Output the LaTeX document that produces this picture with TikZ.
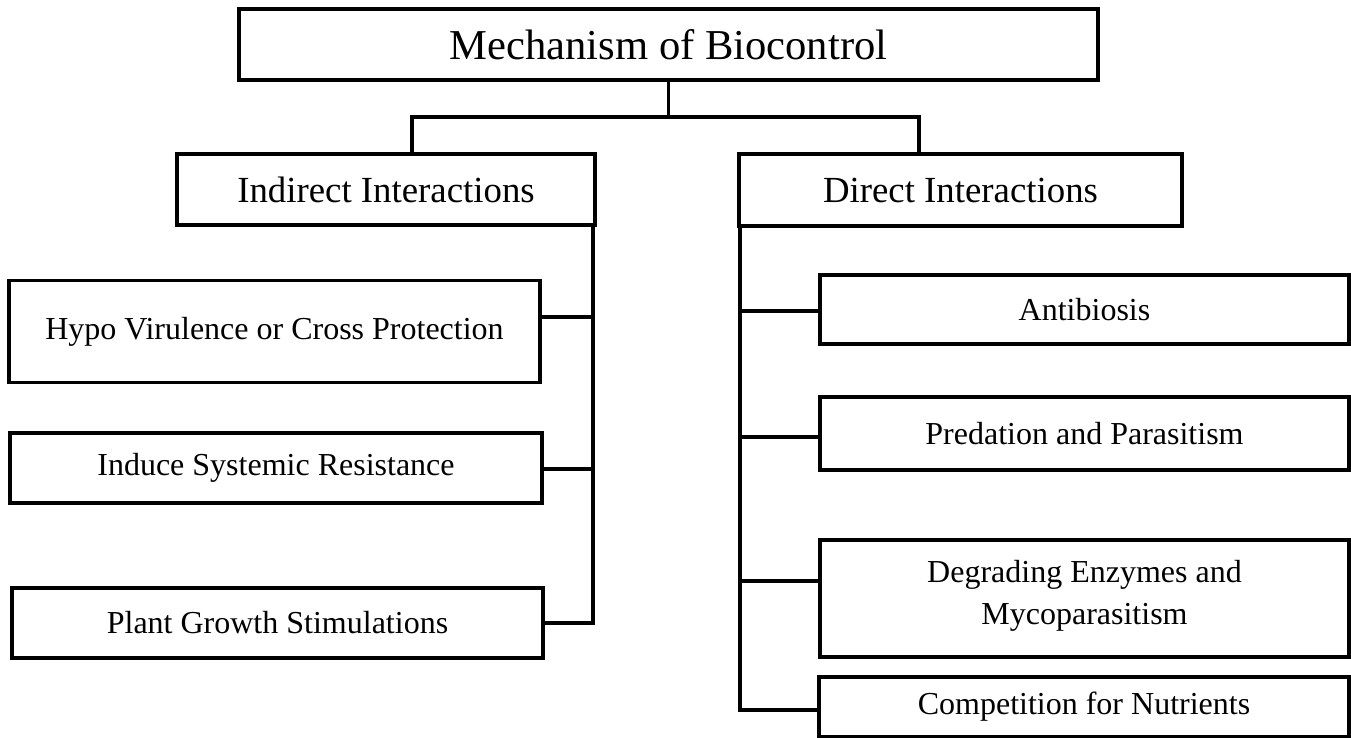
\documentclass[tikz,border=0pt]{standalone}
\usepackage{fontspec}
\setmainfont{Liberation Serif}
\begin{document}
\begin{tikzpicture}[x=0.5pt,y=-0.5pt,
  box/.style={draw=black,line width=1.9pt,rectangle,inner sep=0pt,outer sep=0pt,align=center,fill=white},
  conn/.style={draw=black,line width=1.8pt,line cap=rect},
  ttl/.style={font=\fontsize{21.3}{25}\selectfont},
  mid/.style={font=\fontsize{18.4}{22}\selectfont},
  leaf/.style={font=\fontsize{16}{21}\selectfont}]
\useasboundingbox (0,0) rectangle (1351,738);
% boxes
\node[box,ttl,minimum width=429.5pt,minimum height=35.5pt] (top) at (668.5,44.5) {Mechanism of Biocontrol};
\node[box,mid,minimum width=209pt,minimum height=35.5pt] (ind) at (386,189.5) {Indirect Interactions};
\node[box,mid,minimum width=221.5pt,minimum height=36pt] (dir) at (960.5,190) {Direct Interactions};
\node[box,leaf,minimum width=265.5pt,minimum height=51pt] (hypo) at (274.5,331.5) {Hypo Virulence or Cross Protection};
\node[box,leaf,minimum width=266pt,minimum height=35pt] (ind1) at (276,468) {Induce Systemic Resistance};
\node[box,leaf,minimum width=265.5pt,minimum height=35pt] (plant) at (277.5,623) {Plant Growth Stimulations};
\node[box,leaf,minimum width=264.5pt,minimum height=34.5pt] (anti) at (1084.5,309.5) {Antibiosis};
\node[box,leaf,minimum width=264.5pt,minimum height=36.5pt] (pred) at (1084.5,433.5) {Predation and Parasitism};
\node[box,leaf,minimum width=264.5pt,minimum height=58.5pt,text depth=6pt] (degr) at (1084.5,598.5) {Degrading Enzymes and\\Mycoparasitism};
\node[box,leaf,minimum width=265pt,minimum height=30pt] (comp) at (1084,707) {Competition for Nutrients};
% junction coordinates
\coordinate (bl) at (412,117);
\coordinate (br) at (919,117);
\coordinate (lspine) at (593,623);
\coordinate (rspine) at (740,710);
\coordinate (l1) at (593,317);
\coordinate (l2) at (593,469);
\coordinate (r1) at (740,311);
\coordinate (r2) at (740,437);
\coordinate (r3) at (740,581);
% connectors
\draw[conn] (top.south) -- (top.south |- bl);
\draw[conn] (bl) -- (br);
\draw[conn] (bl) -- (bl |- ind.north);
\draw[conn] (br) -- (br |- dir.north);
\draw[conn] (ind.south -| lspine) -- (lspine);
\draw[conn] (hypo.east |- l1) -- (l1);
\draw[conn] (ind1.east |- l2) -- (l2);
\draw[conn] (plant.east |- lspine) -- (lspine);
\draw[conn] (dir.south -| rspine) -- (rspine);
\draw[conn] (r1) -- (r1 -| anti.west);
\draw[conn] (r2) -- (r2 -| pred.west);
\draw[conn] (r3) -- (r3 -| degr.west);
\draw[conn] (rspine) -- (rspine -| comp.west);
\end{tikzpicture}
\end{document}
